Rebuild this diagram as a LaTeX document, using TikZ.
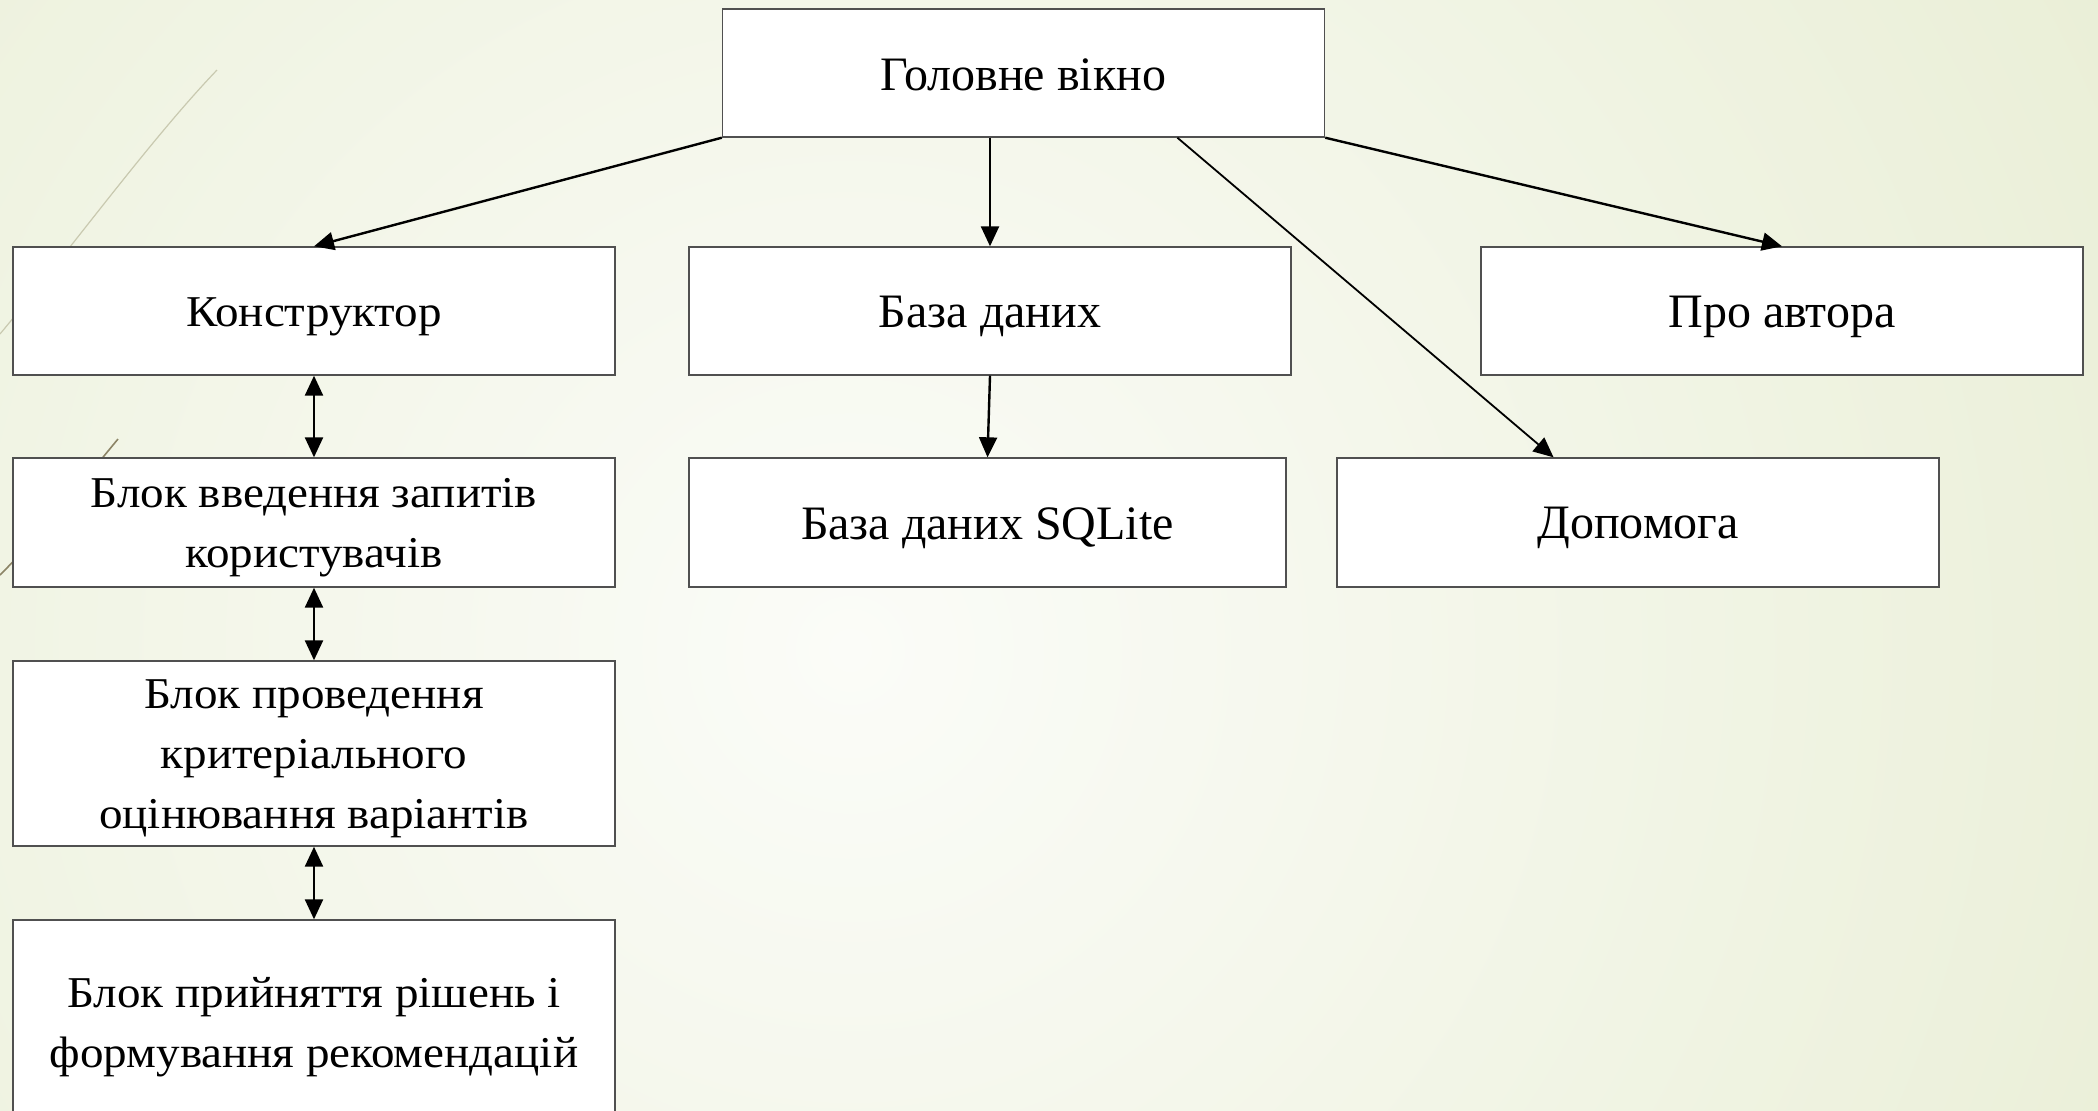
\documentclass[tikz,border=0pt]{standalone}
\usepackage{fontspec}
\setmainfont{Liberation Serif}
\newfontfamily\wideface[FakeStretch=1.07]{Liberation Serif}
\usetikzlibrary{arrows.meta,calc}
\definecolor{bgout}{HTML}{DDE5BE}
\definecolor{bgin}{HTML}{FBFCF8}
\definecolor{decoA}{HTML}{C9C9B0}
\definecolor{decoB}{HTML}{8C8466}
\definecolor{boxline}{HTML}{505050}
\tikzset{
  box/.style={draw=boxline,line width=0.7pt,fill=white,minimum width=301pt,inner sep=0pt},
  wlbl/.style={yshift=-2.7pt,align=center,font=\wideface\fontsize{22}{30}\selectfont},
  nlbl/.style={yshift=-2.7pt,align=center,font=\fontsize{24}{29}\selectfont},
  tlbl/.style={yshift=-0.7pt,align=center,font=\fontsize{24}{29}\selectfont},
  plain/.style={box,label={[wlbl]center:#1}},
  cond/.style={box,label={[nlbl]center:#1}},
  condtop/.style={box,label={[tlbl]center:#1}},
  arr/.style={line width=1.2pt,-{Triangle[length=10pt,width=9pt]}},
  darr/.style={line width=1.2pt,{Triangle[length=10pt,width=9pt]}-{Triangle[length=10pt,width=9pt]}},
}
\begin{document}
\begin{tikzpicture}[x=0.5pt,y=-0.5pt]
\useasboundingbox (0,0) rectangle (2098,1110);
\fill[bgout] (0,0) rectangle (2098,1110);
\begin{scope}
\clip (0,0) rectangle (2098,1110);
\shade[inner color=bgin,outer color=bgout] (850,650) circle (2500);
\draw[decoA,line width=0.6pt] (217,70) .. controls (150,140) and (70,250) .. (0,334);
\draw[decoB,line width=0.8pt] (118,439) .. controls (80,485) and (40,535) .. (0,575);
\end{scope}

\node[condtop={Головне вікно},minimum height=64pt] (main) at (1023.5,73) {};
\node[plain={Конструктор},minimum height=64pt] (kon) at (314,311) {};
\node[cond={База даних},minimum height=64pt] (db) at (990,311) {};
\node[cond={Про автора},minimum height=64pt] (about) at (1782,311) {};
\node[plain={Блок введення запитів\\користувачів},minimum height=64.5pt] (vved) at (314,522.5) {};
\node[cond={База даних SQLite},minimum height=64.5pt,minimum width=298.5pt] (sql) at (987.5,522.5) {};
\node[cond={Допомога},minimum height=64.5pt] (help) at (1638,522.5) {};
\node[plain={Блок проведення\\критеріального\\оцінювання варіантів},minimum height=92.5pt] (prov) at (314,753.5) {};
\node[plain={Блок прийняття рішень і\\формування рекомендацій},minimum height=102pt] (pryin) at (314,1022) {};

\draw[arr] (main.south west) -- (kon.north);
\draw[arr] (main.south -| db.north) -- (db.north);
\draw[arr,line width=0.9pt] ($(main.south west)!0.755!(main.south east)$) -- ($(help.north west)!0.36!(help.north east)$);
\draw[arr] (main.south east) -- (about.north);
\draw[arr] (db.south) -- (sql.north);
\draw[darr] (kon.south) -- (vved.north);
\draw[darr] (vved.south) -- (prov.north);
\draw[darr] (prov.south) -- (pryin.north);
\end{tikzpicture}
\end{document}
